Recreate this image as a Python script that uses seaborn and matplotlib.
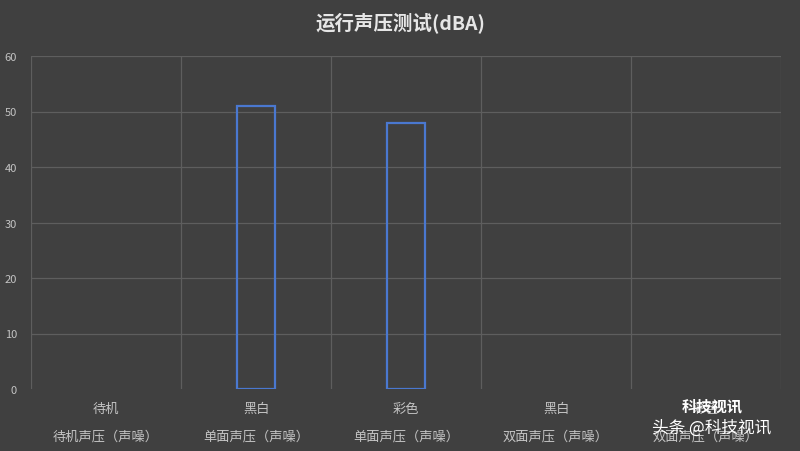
import numpy as np
import pandas as pd
import matplotlib
matplotlib.use("Agg")
import matplotlib.pyplot as plt
import seaborn as sns

sns.set_theme(style="dark")
plt.rcParams['font.family'] = ['Noto Sans CJK SC', 'DejaVu Sans']

# data
sub_labels = ["待机", "黑白", "彩色", "黑白", "彩色"]
group_labels = ["待机声压（声噪）", "单面声压（声噪）", "单面声压（声噪）", "双面声压（声噪）", "双面声压（声噪）"]
values = [np.nan, 51, 48, np.nan, np.nan]
y_ticks = [0, 10, 20, 30, 40, 50, 60]
title = "运行声压测试(dBA)"

bg = "#404040"
grid_c = "#5e5e5e"
txt_c = "#c4c4c4"

keys = [f"c{i}" for i in range(len(sub_labels))]
df = pd.DataFrame({"key": keys, "value": values})

fig = plt.figure(figsize=(8, 4.52), dpi=100, facecolor=bg)
ax = fig.add_axes([31/800, (452-390)/452, (781-31)/800, (390-57)/452])
ax.set_facecolor(bg)

sns.barplot(data=df, x="key", y="value", order=keys, ax=ax, fill=False,
            width=0.25, edgecolor="#4a78d0", linewidth=1.6, errorbar=None)

ax.set_ylim(0, 60)
ax.set_xlim(-0.5, len(keys) - 0.5)
ax.set_yticks(y_ticks)
ax.set_yticklabels([str(t) for t in y_ticks], color=txt_c, fontsize=8)
ax.tick_params(axis="y", length=0, pad=10)
ax.tick_params(axis="x", length=0, pad=9)
ax.set_xticks(range(len(keys)))
ax.set_xticklabels(sub_labels, color=txt_c, fontsize=9.5)
ax.set_xlabel("")
ax.set_ylabel("")

# gridlines
for t in y_ticks[1:]:
    ax.axhline(t, color=grid_c, lw=0.9, zorder=0)
for b in np.arange(-0.5, len(keys), 1.0):
    ax.axvline(b, color=grid_c, lw=0.9, zorder=0)
for s in ax.spines.values():
    s.set_visible(False)

# second row of category labels
for i, g in enumerate(group_labels):
    ax.annotate(g, xy=(i, 0), xycoords=("data", "axes fraction"),
                xytext=(0, -47), textcoords="offset pixels",
                ha="center", va="center", color=txt_c, fontsize=9.5, zorder=1)

fig.text(0.5, 1 - 24/452, title, ha="center", va="center",
         color="#e6e6e6", fontsize=14, fontweight="bold")

# watermark
fig.text(712/800, 1 - 406/452, "科技视讯", ha="center", va="center",
         color="#ffffff", fontsize=11, fontweight="bold", zorder=5)
fig.text(712/800, 1 - 428/452, "头条 @科技视讯", ha="center", va="center",
         color="#ffffff", fontsize=12, zorder=5)

fig.savefig("out.png", dpi=100, facecolor=bg)
